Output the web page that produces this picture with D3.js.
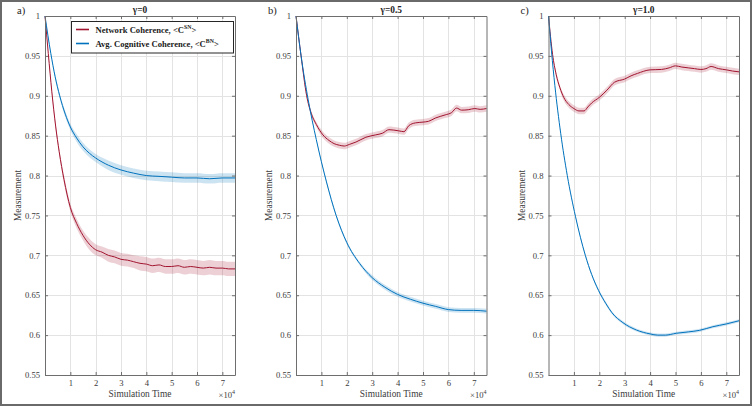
<!DOCTYPE html>
<html><head><meta charset="utf-8">
<script src="https://cdn.jsdelivr.net/npm/d3@7"></script>
<style>body{margin:0;background:#fff}svg{display:block}</style>
</head><body><div id="chart"></div>
<script>
// ---------- data ----------
const xTicks = [1,2,3,4,5,6,7];
const yTicks = [0.55,0.6,0.65,0.7,0.75,0.8,0.85,0.9,0.95,1];
const panelLabels = ["a)","b)","c)"];
const gammaTitles = ["\u03B3=0","\u03B3=0.5","\u03B3=1.0"];
const legendNames = ["Network Coherence, <C","Avg. Cognitive Coherence, <C"];
const legendSups = ["SN","BN"];

// panel a
const tA_net = [0,0.13,0.27,0.42,0.56,0.75,1,1.25,1.5,1.75,2,2.25,2.5,2.75,3,3.25,3.5,3.75,4,4.25,4.5,4.75,5,5.25,5.5,5.75,6,6.25,6.5,6.75,7,7.25,7.5];
const vA_net = [1,0.953,0.905,0.862,0.830,0.795,0.760,0.740,0.725,0.714,0.707,0.704,0.700,0.698,0.695,0.694,0.692,0.690,0.689,0.687,0.688,0.686,0.686,0.687,0.685,0.686,0.685,0.684,0.685,0.684,0.684,0.683,0.683];
const sA_net = [0,0.002,0.003,0.004,0.004,0.005,0.005,0.006,0.006,0.007,0.007,0.007,0.008,0.008,0.008,0.008,0.008,0.009,0.009,0.009,0.009,0.009,0.009,0.009,0.009,0.009,0.009,0.009,0.009,0.009,0.009,0.009,0.009];
const tA_cog = [0,0.23,0.4,0.58,0.8,1,1.25,1.5,1.75,2,2.5,3,3.5,4,4.5,5,5.5,6,6.5,7,7.5];
const vA_cog = [1,0.953,0.924,0.900,0.877,0.861,0.847,0.836,0.828,0.822,0.813,0.807,0.803,0.800,0.799,0.798,0.797,0.797,0.796,0.797,0.797];
const sA_cog = [0,0.002,0.003,0.003,0.004,0.004,0.005,0.005,0.005,0.005,0.006,0.006,0.006,0.006,0.006,0.006,0.006,0.006,0.006,0.006,0.006];

// panel b
const tB_net = [0,0.2,0.42,0.6,0.8,1.06,1.3,1.5,1.71,1.9,2.1,2.36,2.75,3.14,3.4,3.66,4.05,4.25,4.44,4.7,5.0,5.22,5.48,5.87,6.13,6.32,6.52,6.78,7.04,7.25,7.5];
const vB_net = [1,0.95,0.90,0.878,0.864,0.851,0.844,0.840,0.838,0.837,0.839,0.842,0.848,0.851,0.853,0.8575,0.856,0.855,0.8625,0.866,0.867,0.868,0.872,0.876,0.879,0.8846,0.882,0.8825,0.884,0.883,0.884];
const sB_net = [0,0.002,0.003,0.003,0.003,0.004,0.004,0.004,0.004,0.004,0.004,0.004,0.004,0.004,0.004,0.004,0.004,0.004,0.004,0.004,0.004,0.004,0.004,0.004,0.004,0.004,0.004,0.004,0.004,0.004,0.004];
const tB_cog = [0,0.2,0.48,0.8,1.2,1.58,2.0,2.5,3,3.5,4,4.5,5,5.5,6,6.5,7,7.5];
const vB_cog = [1,0.95,0.895,0.845,0.792,0.750,0.716,0.690,0.672,0.660,0.651,0.645,0.640,0.636,0.632,0.631,0.631,0.630];
const sB_cog = [0,0.001,0.001,0.001,0.002,0.002,0.002,0.002,0.003,0.003,0.003,0.003,0.003,0.003,0.003,0.003,0.003,0.003];

// panel c
const tC_net = [0,0.16,0.3,0.45,0.6,0.8,1,1.2,1.4,1.55,1.7,2,2.3,2.6,3,3.25,3.5,4,4.45,4.75,5,5.25,5.5,5.75,6,6.2,6.4,6.7,7,7.25,7.5];
const vC_net = [1,0.952,0.927,0.910,0.898,0.889,0.884,0.881,0.881,0.886,0.891,0.898,0.907,0.917,0.921,0.925,0.928,0.9325,0.933,0.935,0.9375,0.936,0.935,0.934,0.933,0.934,0.9367,0.934,0.9325,0.931,0.930];
const sC_net = [0,0.002,0.003,0.003,0.004,0.004,0.004,0.004,0.004,0.004,0.004,0.004,0.004,0.004,0.004,0.004,0.004,0.004,0.004,0.004,0.004,0.004,0.004,0.004,0.004,0.004,0.004,0.004,0.004,0.004,0.004];
const tC_cog = [0,0.12,0.25,0.48,0.74,1.06,1.45,1.7,1.97,2.25,2.5,2.93,3.46,4,4.3,4.6,5.03,5.5,5.95,6.47,7,7.5];
const vC_cog = [1,0.955,0.913,0.853,0.80,0.749,0.70,0.676,0.656,0.640,0.628,0.6156,0.6064,0.6015,0.600,0.600,0.6023,0.604,0.606,0.6105,0.614,0.618];
const sC_cog = [0,0.001,0.001,0.001,0.001,0.001,0.002,0.002,0.002,0.002,0.002,0.002,0.002,0.002,0.002,0.002,0.002,0.002,0.002,0.002,0.002,0.002];

// ---------- layout ----------
const W = 752, H = 406;
const plotTop = 16, plotBot = 375;
const panelX = [[45,235],[296,486.5],[548.5,739]];
const colNet = "#a2142f", colCog = "#0072bd";
const SERIF = "'Liberation Serif','Times New Roman',Times,'DejaVu Serif',serif";

const panels = [
  {net:[tA_net,vA_net,sA_net], cog:[tA_cog,vA_cog,sA_cog]},
  {net:[tB_net,vB_net,sB_net], cog:[tB_cog,vB_cog,sB_cog]},
  {net:[tC_net,vC_net,sC_net], cog:[tC_cog,vC_cog,sC_cog]}
];

const svg = d3.select("#chart").append("svg").attr("width",W).attr("height",H)
  .style("font-family", SERIF);
svg.append("rect").attr("x",1).attr("y",1).attr("width",W-2).attr("height",H-2)
  .attr("fill","#fff").attr("stroke","#6a6a6a").attr("stroke-width",2);

const y = d3.scaleLinear().domain([0.55,1]).range([plotBot, plotTop]);
const fmt = v => String(+v.toFixed(2));

panels.forEach((p, i) => {
  const [x0,x1] = panelX[i];
  const x = d3.scaleLinear().domain([0,7.5]).range([x0,x1]);
  const g = svg.append("g");
  g.append("rect").attr("x",x0).attr("y",plotTop).attr("width",x1-x0).attr("height",plotBot-plotTop).attr("fill","#fff");
  // grid
  g.selectAll(".gx").data(xTicks).join("line")
    .attr("x1",d=>Math.round(x(d))+0.5).attr("x2",d=>Math.round(x(d))+0.5)
    .attr("y1",plotTop).attr("y2",plotBot).attr("stroke","#e3e3e3").attr("stroke-width",1);
  g.selectAll(".gy").data(yTicks).join("line")
    .attr("y1",d=>Math.round(y(d))+0.5).attr("y2",d=>Math.round(y(d))+0.5)
    .attr("x1",x0).attr("x2",x1).attr("stroke","#e3e3e3").attr("stroke-width",1);

  // bands & lines
  [["net",colNet,"rgba(162,20,47,0.2)"],["cog",colCog,"rgba(0,114,189,0.2)"]].forEach(([k,c,f]) => {
    const [ts,vs,ss] = p[k];
    const d = ts.map((t,j)=>({t, v:vs[j], s:ss[j]}));
    g.append("path").datum(d).attr("fill",f)
      .attr("d", d3.area().curve(d3.curveMonotoneX).x(e=>x(e.t)).y0(e=>y(e.v-e.s)).y1(e=>y(e.v+e.s)));
    g.append("path").datum(d).attr("fill","none").attr("stroke",c).attr("stroke-width",1)
      .attr("d", d3.line().curve(d3.curveMonotoneX).x(e=>x(e.t)).y(e=>y(e.v)));
  });

  // axes (MATLAB box style, ticks inside)
  const axCol = "#6e6e6e";
  const axB = g.append("g").attr("transform",`translate(0,${plotBot})`)
    .call(d3.axisBottom(x).tickValues(xTicks).tickSizeInner(-3).tickSizeOuter(0).tickPadding(5).tickFormat(d3.format("d")));
  const axT = g.append("g").attr("transform",`translate(0,${plotTop})`)
    .call(d3.axisTop(x).tickValues(xTicks).tickSizeInner(-3).tickSizeOuter(0).tickFormat(""));
  const axL = g.append("g").attr("transform",`translate(${x0},0)`)
    .call(d3.axisLeft(y).tickValues(yTicks).tickSizeInner(-3).tickSizeOuter(0).tickPadding(5).tickFormat(fmt));
  const axR = g.append("g").attr("transform",`translate(${x1},0)`)
    .call(d3.axisRight(y).tickValues(yTicks).tickSizeInner(-3).tickSizeOuter(0).tickFormat(""));
  [axB,axT,axL,axR].forEach(a => {
    a.attr("font-family", null);
    a.select(".domain").attr("stroke",axCol);
    a.selectAll(".tick line").attr("stroke",axCol);
    a.selectAll("text").attr("fill","#3a3a3a").attr("font-size","8.6px")
      .style("font-family", SERIF);
  });
  axL.selectAll("text").attr("dy","0.32em");

  // axis labels
  const cx = (x0+x1)/2;
  g.append("text").attr("x",cx).attr("y",397).attr("text-anchor","middle").style("font-family",SERIF)
    .attr("font-size","9.4px").attr("fill","#3a3a3a").text("Simulation Time");
  const ex = g.append("text").attr("x",x1).attr("y",398).attr("text-anchor","end").style("font-family",SERIF)
    .attr("font-size","8.6px").attr("fill","#3a3a3a");
  ex.append("tspan").text("\u00D710");
  ex.append("tspan").attr("dy",-4).attr("font-size","6px").text("4");
  g.append("text").attr("transform",`translate(${x0-24},${(plotTop+plotBot)/2}) rotate(-90)`).style("font-family",SERIF)
    .attr("text-anchor","middle").attr("font-size","9.4px").attr("fill","#3a3a3a").text("Measurement");
  // title
  g.append("text").attr("x",cx).attr("y",12.5).attr("text-anchor","middle").style("font-family",SERIF)
    .attr("font-size","9.4px").attr("font-weight","bold").attr("fill","#222").text(gammaTitles[i]);
  // panel label
  g.append("text").attr("x",x0-28).attr("y",13.5).attr("text-anchor","start").style("font-family",SERIF)
    .attr("font-size","10.5px").attr("fill","#222").text(panelLabels[i]);
});

// legend (panel a)
const lg = svg.append("g");
lg.append("rect").attr("x",71.5).attr("y",21.5).attr("width",162).attr("height",31.5)
  .attr("fill","#fff").attr("stroke","#262626").attr("stroke-width",1);
[colNet,colCog].forEach((c,j) => {
  const yy = 29.5 + j*14;
  lg.append("line").attr("x1",76).attr("x2",89).attr("y1",yy).attr("y2",yy)
    .attr("stroke",c).attr("stroke-width",1.6);
  const t = lg.append("text").attr("x",95.5).attr("y",yy+3).attr("font-size","8.6px").style("font-family",SERIF)
    .attr("font-weight","bold").attr("fill","#1a1a1a");
  t.append("tspan").text(legendNames[j]);
  t.append("tspan").attr("dy",-3.5).attr("font-size","5.8px").text(legendSups[j]);
  t.append("tspan").attr("dy",3.5).text(">");
});
</script></body></html>
